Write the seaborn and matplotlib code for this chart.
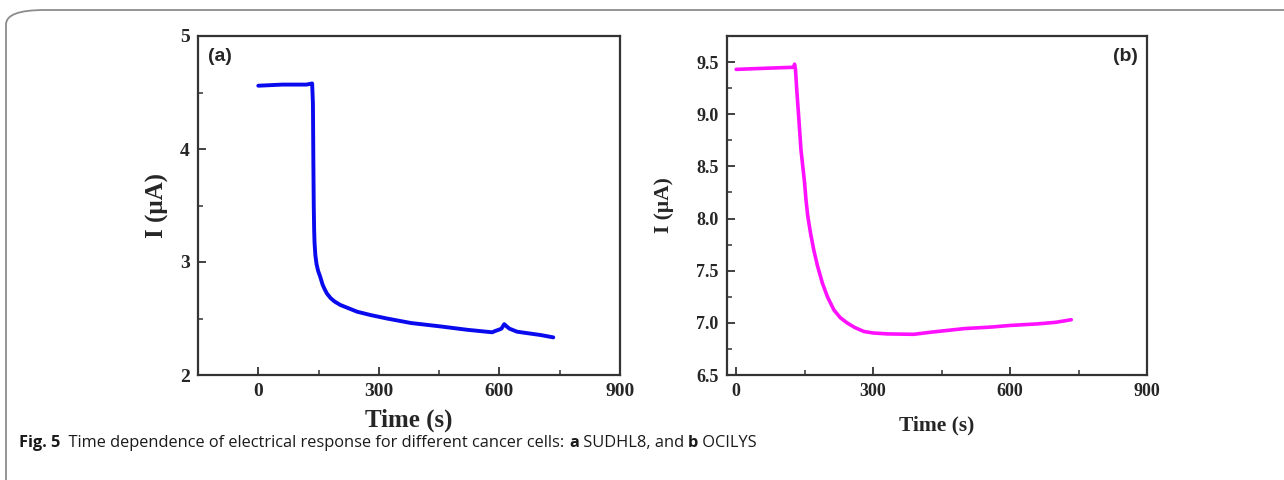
import matplotlib
matplotlib.use("Agg")
import matplotlib.pyplot as plt
from matplotlib.patches import FancyBboxPatch
from matplotlib.ticker import MultipleLocator, FormatStrFormatter
import pandas as pd
import seaborn as sns

# Panel (a): SUDHL8
time_a = [0, 60, 120, 134, 136, 137, 138, 139, 140, 142, 145, 149, 154, 160, 165, 171, 180, 190,
          204, 225, 246, 280, 320, 380, 453, 520, 582, 590, 598, 605, 612, 618, 625, 644, 670,
          702, 734]
current_a = [4.56, 4.57, 4.57, 4.58, 4.40, 3.90, 3.50, 3.28, 3.17, 3.06, 2.98, 2.92, 2.87, 2.80,
             2.76, 2.72, 2.68, 2.65, 2.62, 2.59, 2.56, 2.53, 2.50, 2.46, 2.43, 2.40, 2.378, 2.39,
             2.40, 2.41, 2.45, 2.43, 2.41, 2.383, 2.37, 2.354, 2.333]

# Panel (b): OCILYS
time_b = [0, 60, 126, 128, 130, 133, 137, 142, 146, 150, 153, 157, 163, 170, 178, 189, 200, 214,
          228, 243, 260, 280, 300, 331, 389, 426, 500, 560, 600, 660, 700, 734]
current_b = [9.43, 9.44, 9.45, 9.48, 9.43, 9.22, 8.98, 8.66, 8.50, 8.34, 8.18, 8.02, 7.86, 7.70,
             7.55, 7.38, 7.25, 7.125, 7.05, 7.00, 6.955, 6.917, 6.903, 6.894, 6.89, 6.91, 6.945,
             6.96, 6.975, 6.99, 7.005, 7.03]

df_a = pd.DataFrame({"Time": time_a, "Current": current_a})
df_b = pd.DataFrame({"Time": time_b, "Current": current_b})

sns.set_style("ticks")
plt.rcParams["font.family"] = ["Liberation Serif", "DejaVu Serif"]

fig = plt.figure(figsize=(12.84, 4.8), dpi=100)

# rounded frame of the figure panel
frame = FancyBboxPatch((6 / 1284, -0.03), 1.2, 1.03 - 10 / 480,
                       boxstyle="round,pad=0,rounding_size=0.03",
                       transform=fig.transFigure, facecolor="none",
                       edgecolor="#8c8c8c", linewidth=1.3)
fig.patches.append(frame)

ax_a = fig.add_axes([198 / 1284, 1 - 375 / 480, 422 / 1284, 339 / 480])
ax_b = fig.add_axes([727 / 1284, 1 - 375 / 480, 420 / 1284, 339 / 480])

sns.lineplot(data=df_a, x="Time", y="Current", ax=ax_a, color="#0a0aee", linewidth=2.8)
sns.lineplot(data=df_b, x="Time", y="Current", ax=ax_b, color="#ff10ff", linewidth=2.6)

ax_a.set_xlim(-150, 900)
ax_a.set_ylim(2, 5)
ax_a.xaxis.set_major_locator(MultipleLocator(300))
ax_a.xaxis.set_minor_locator(MultipleLocator(150))
ax_a.yaxis.set_major_locator(MultipleLocator(1))
ax_a.yaxis.set_minor_locator(MultipleLocator(0.5))

ax_b.set_xlim(-20, 900)
ax_b.set_ylim(6.5, 9.75)
ax_b.xaxis.set_major_locator(MultipleLocator(300))
ax_b.xaxis.set_minor_locator(MultipleLocator(150))
ax_b.yaxis.set_major_locator(MultipleLocator(0.5))
ax_b.yaxis.set_minor_locator(MultipleLocator(0.25))
ax_b.yaxis.set_major_formatter(FormatStrFormatter("%.1f"))

for ax, tsize in [(ax_a, 14), (ax_b, 13)]:
    for sp in ax.spines.values():
        sp.set_visible(True)
        sp.set_color("#333333")
        sp.set_linewidth(1.6)
    ax.tick_params(which="major", direction="in", length=6, width=1.3, color="#333333",
                   labelsize=tsize, pad=6)
    ax.tick_params(which="minor", direction="in", length=3.5, width=1.1, color="#333333")
    for lab in ax.get_xticklabels() + ax.get_yticklabels():
        lab.set_fontweight("bold")

ax_a.set_xlabel("Time (s)", fontsize=18, fontweight="bold", labelpad=6)
ax_a.set_ylabel("I (μA)", fontsize=18, fontweight="bold", labelpad=8)
ax_b.set_xlabel("Time (s)", fontsize=15.5, fontweight="bold", labelpad=11)
ax_b.set_ylabel("I (μA)", fontsize=15.5, fontweight="bold", labelpad=16)

ax_a.text(0.024, 0.94, "(a)", transform=ax_a.transAxes, fontsize=14, fontweight="bold",
          family=["Liberation Sans", "DejaVu Sans"], ha="left", va="center")
ax_b.text(0.979, 0.94, "(b)", transform=ax_b.transAxes, fontsize=14, fontweight="bold",
          family=["Liberation Sans", "DejaVu Sans"], ha="right", va="center")

# caption, written in pieces so bold and regular parts sit on one line
caption = [("Fig. 5", "bold"), ("  Time dependence of electrical response for different cancer cells: ", "normal"),
           ("a", "bold"), (" SUDHL8, and ", "normal"), ("b", "bold"), (" OCILYS", "normal")]
renderer = fig.canvas.get_renderer()
x = 19 / 1284
for piece, weight in caption:
    t = fig.text(x, 1 - 443 / 480, piece, fontsize=11.8, fontweight=weight,
                 family=["Open Sans", "DejaVu Sans"], ha="left", va="center", color="#1a1a1a")
    bb = t.get_window_extent(renderer=renderer)
    x += bb.width / fig.bbox.width

fig.savefig("out.png", dpi=100)
